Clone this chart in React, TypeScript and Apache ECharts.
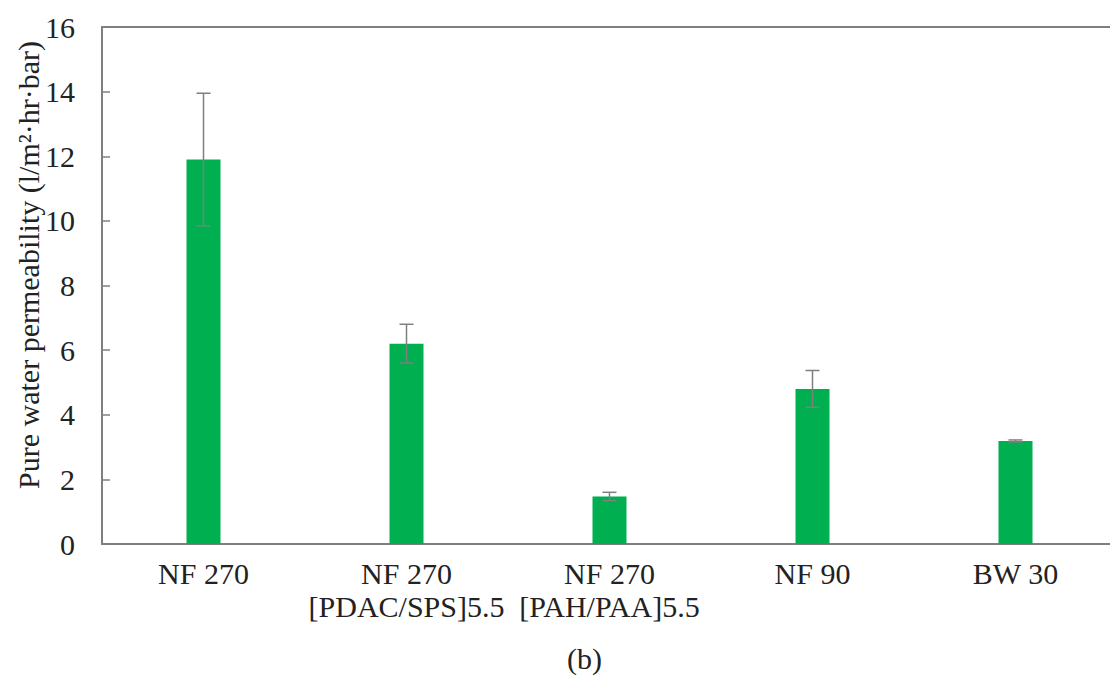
import React, { useEffect, useRef } from "react";
import * as echarts from "echarts";

const categories = [
  "NF 270",
  "NF 270\n[PDAC/SPS]5.5",
  "NF 270\n[PAH/PAA]5.5",
  "NF 90",
  "BW 30",
];
const values = [11.9, 6.2, 1.47, 4.8, 3.19];
const errors = [2.05, 0.6, 0.13, 0.57, 0.03];
const yTicks = [0, 2, 4, 6, 8, 10, 12, 14, 16];
const yTitle = "Pure water permeability (l/m²·hr·bar)";
const caption = "(b)";

const FONT = "Liberation Serif";

export default function App() {
  const ref = useRef<HTMLDivElement>(null);
  useEffect(() => {
    if (!ref.current) return;
    const chart = echarts.init(ref.current, null, { renderer: "svg" });
    const errData = values.map((v, i) => [i, v - errors[i], v + errors[i]]);
    chart.setOption({
      animation: false,
      backgroundColor: "#ffffff",
      grid: { left: 102, top: 27, right: 3, bottom: 132 },
      xAxis: [
        {
          type: "category",
          data: categories,
          axisLine: { lineStyle: { color: "#7f7f7f", width: 2 } },
          axisTick: { show: false },
          axisLabel: {
            fontFamily: FONT,
            fontSize: 30,
            color: "#222",
            margin: 13,
            lineHeight: 33,
            interval: 0,
          },
        },
        {
          type: "category",
          data: categories,
          position: "top",
          axisLine: { lineStyle: { color: "#7f7f7f", width: 2 } },
          axisTick: { show: false },
          axisLabel: { show: false },
        },
      ],
      yAxis: {
        type: "value",
        min: yTicks[0],
        max: yTicks[yTicks.length - 1],
        interval: 2,
        axisLine: { show: true, lineStyle: { color: "#7f7f7f", width: 2 } },
        axisTick: { show: true, inside: true, length: 8, lineStyle: { color: "#7f7f7f", width: 1.5 } },
        splitLine: { show: false },
        axisLabel: { fontFamily: FONT, fontSize: 30, color: "#222", margin: 27 },
      },
      series: [
        {
          type: "bar",
          data: values,
          barWidth: 34,
          itemStyle: { color: "#00b050" },
        },
        {
          type: "custom",
          data: errData,
          z: 10,
          renderItem: (params: any, api: any) => {
            const x = api.value(0);
            const lo = api.coord([x, api.value(1)]);
            const hi = api.coord([x, api.value(2)]);
            const hw = 7;
            const style = { stroke: "#7f7f7f", lineWidth: 1.5 };
            return {
              type: "group",
              children: [
                { type: "line", shape: { x1: lo[0], y1: lo[1], x2: hi[0], y2: hi[1] }, style },
                { type: "line", shape: { x1: hi[0] - hw, y1: hi[1], x2: hi[0] + hw, y2: hi[1] }, style },
                { type: "line", shape: { x1: lo[0] - hw, y1: lo[1], x2: lo[0] + hw, y2: lo[1] }, style },
              ],
            };
          },
        },
      ],
      graphic: [
        {
          type: "text",
          x: 28,
          y: 265,
          rotation: Math.PI / 2,
          style: {
            text: yTitle,
            fontFamily: FONT,
            fontSize: 30,
            fill: "#222",
            textAlign: "center",
            textVerticalAlign: "middle",
          },
        },
        {
          type: "text",
          left: 567,
          top: 643,
          style: { text: caption, fontFamily: FONT, fontSize: 30, fill: "#222" },
        },
      ],
    });
    return () => chart.dispose();
  }, []);
  return (
    <div
      ref={ref}
      style={{ position: "fixed", left: 0, top: 0, width: 1120, height: 676 }}
    />
  );
}
